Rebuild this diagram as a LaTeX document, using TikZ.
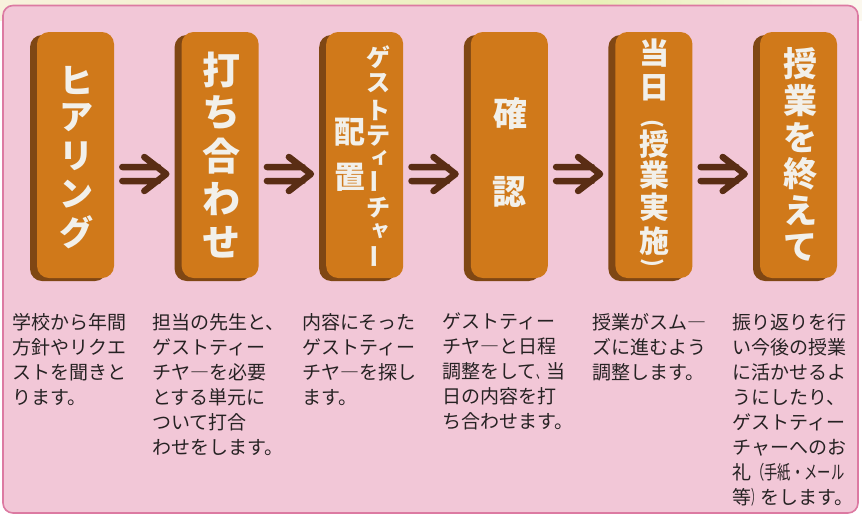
\documentclass[tikz,border=0pt]{standalone}
\usepackage{fontspec}
\usepackage{graphicx}
\newfontfamily\jp{Noto Sans CJK JP}
\usetikzlibrary{shadows}
\definecolor{panelpink}{HTML}{F2C7D7}
\definecolor{borderpink}{HTML}{DC7AA2}
\definecolor{faceorange}{HTML}{D0791A}
\definecolor{shadowbrown}{HTML}{7F4714}
\definecolor{arrowbrown}{HTML}{5A2D14}
\definecolor{boxtxt}{HTML}{F2F0EA}
\definecolor{desctext}{HTML}{262223}
\definecolor{creamA}{HTML}{F8F1DC}
\definecolor{creamB}{HTML}{E9F0B8}
\definecolor{creamC}{HTML}{FBF8EE}
\newcommand\vbar{\rotatebox[origin=c]{90}{ー}}
\newcommand\hw[1]{\scalebox{0.5}[1]{#1}}
\begin{document}
\begin{tikzpicture}[x=1pt,y=-1pt,
  face/.style={fill=faceorange, rounded corners=12pt, minimum width=77pt, minimum height=246pt, inner sep=0pt,
    general shadow={fill=shadowbrown, shadow xshift=-7pt, shadow yshift=-3pt}},
  vt/.style={text=boxtxt, inner sep=0pt, font=\jp\bfseries\fontsize{#1}{#1}\selectfont},
  arr/.style={draw=arrowbrown, line width=6.5pt, line cap=round, line join=round},
  desc/.style={anchor=north west, inner sep=0pt, align=left, text=desctext, font=\jp\fontsize{19}{25}\selectfont}]
\useasboundingbox (0,0) rectangle (862,515);
\shade[left color=creamA, right color=creamB] (0,0) rectangle (600,20);
\shade[left color=creamB, right color=creamC] (600,0) rectangle (862,20);
\draw[fill=panelpink, draw=borderpink, line width=1.6pt, rounded corners=10pt] (3,5.5) rectangle (858,513);
% boxes
\foreach \i in {0,...,5}
  \node[face] (b\i) at ({75.5+144.6*\i},155) {};
% arrows
\foreach \i in {0,...,4} {
  \coordinate (a\i) at ({144.3+144.6*\i},174);
  \draw[arr] ([shift={(-22,-7)}]a\i) -- ([shift={(14,-7)}]a\i)
             ([shift={(-22,7)}]a\i) -- ([shift={(14,7)}]a\i)
             ([shift={(0,-17)}]a\i) -- ([shift={(22,0)}]a\i) -- ([shift={(0,17)}]a\i);
}
% box 1
\foreach \c/\y [count=\k] in {ヒ/80, ア/118, リ/156, ン/194, グ/232}
  \node[vt=34] (t1-\k) at (76,\y) {\c};
% box 2
\foreach \c/\y [count=\k] in {打/70, ち/113, 合/156, わ/199, せ/242}
  \node[vt=38] (t2-\k) at (221,\y) {\c};
% box 3
\foreach \c/\y [count=\k] in {ゲ/57.5, ス/83, ト/110, テ/136, {\vbar}/181, チ/208, {\vbar}/256}
  \node[vt=24] (t3-\k) at (378,\y) {\c};
\node[vt=20] (t3-s1) at (380,158) {ィ};
\node[vt=20] (t3-s2) at (380,231) {ャ};
\node[vt=31] (t3-a) at (350,132) {配};
\node[vt=31] (t3-b) at (350,177) {置};
% box 4
\node[vt=34] (t4-1) at (510,114) {確};
\node[vt=34] (t4-2) at (509.5,192) {認};
% box 5
\foreach \c/\y [count=\k] in {当/53, 日/88, 授/144, 業/175, 実/207, 施/241}
  \node[vt=30] (t5-\k) at (654,\y) {\c};
\node[vt=22, rotate=-90] (t5-p1) at (652,124) {(};
\node[vt=22, rotate=-90] (t5-p2) at (652,263) {)};
% box 6
\foreach \c/\y [count=\k] in {授/64, 業/101, を/138, 終/174, え/211, て/247}
  \node[vt=34] (t6-\k) at (800,\y) {\c};
% descriptions
\node[desc] (d1) at (12,313) {学校から年間\\方針やリクエ\\ストを聞きと\\ります。};
\node[desc] (d2) at (152,313) {担当の先生と、\\ゲストティー\\チヤ―を必要\\とする単元に\\ついて打合\\わせをします。};
\node[desc] (d3) at (302,313) {内容にそった\\ゲストティー\\チヤ―を探し\\ます。};
\node[desc] (d4) at (442,313) {ゲストティー\\チヤ―と日程\\調整をして\hw{、}当\\日の内容を打\\ち合わせます。};
\node[desc] (d5) at (592,313) {授業がスム―\\ズに進むよう\\調整します。};
\node[desc] (d6) at (732,313) {振り返りを行\\い今後の授業\\に活かせるよ\\うにしたり、\\ゲストティー\\チャーへのお\\礼\scalebox{0.7}[1]{（手紙・メール}\\等\hw{）}をします。};
\end{tikzpicture}
\end{document}
